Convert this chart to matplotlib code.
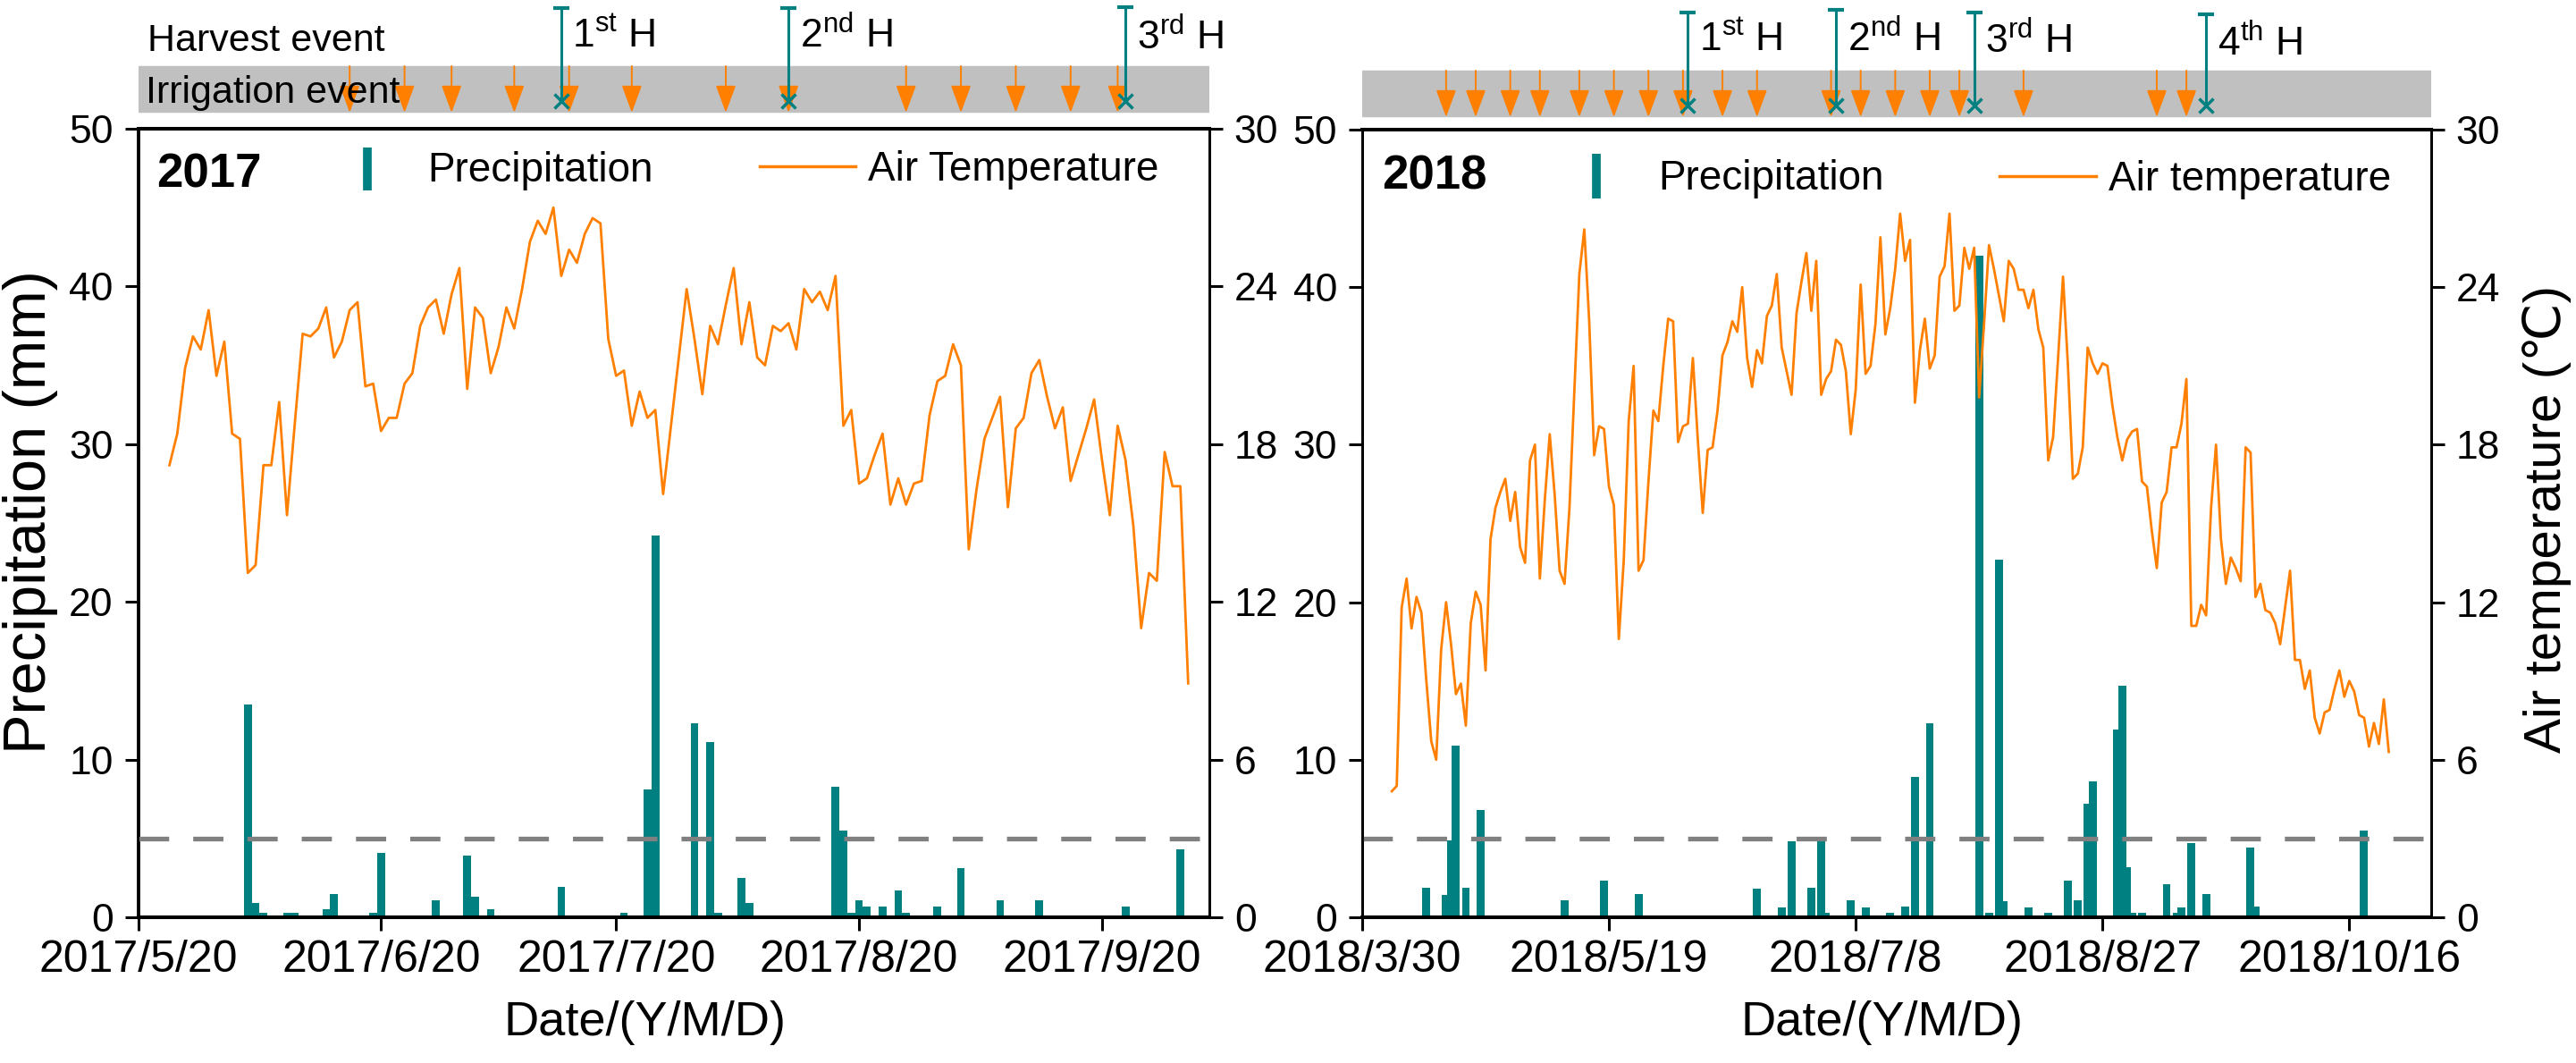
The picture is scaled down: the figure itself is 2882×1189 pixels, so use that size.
import matplotlib
matplotlib.use("Agg")
import matplotlib.pyplot as plt
from matplotlib import font_manager
from matplotlib.lines import Line2D
import pandas as pd

# ---------------- data ----------------
# 2017 season, day numbers counted from 2017/5/20
start_2017 = "2017-05-20"
temp_2017_first_day = 4
temp_2017 = [
    17.2, 18.4, 20.9, 22.1, 21.6, 23.1, 20.6, 21.9, 18.4, 18.2,
    13.1, 13.4, 17.2, 17.2, 19.6, 15.3, 18.8, 22.2, 22.1, 22.4,
    23.2, 21.3, 21.9, 23.1, 23.4, 20.2, 20.3, 18.5, 19.0, 19.0,
    20.3, 20.7, 22.5, 23.2, 23.5, 22.2, 23.7, 24.7, 20.1, 23.2,
    22.8, 20.7, 21.7, 23.2, 22.4, 23.9, 25.7, 26.5, 26.0, 27.0,
    24.4, 25.4, 24.9, 26.0, 26.6, 26.4, 22.0, 20.6, 20.8, 18.7,
    20.0, 19.0, 19.3, 16.1, 18.7, 21.3,
    23.9, 22.0, 19.9, 22.5, 21.8, 23.3, 24.7, 21.8, 23.4, 21.3,
    21.0, 22.5, 22.3, 22.6, 21.6, 23.9, 23.4, 23.8, 23.1, 24.4,
    18.7, 19.3, 16.5, 16.7, 17.6, 18.4, 15.7, 16.7, 15.7, 16.5,
    16.6, 19.1, 20.4, 20.6, 21.8, 21.0, 14.0, 16.3, 18.2, 19.0,
    19.8, 15.6, 18.6, 19.0, 20.7, 21.2, 19.8, 18.6, 19.4, 16.6,
    17.6, 18.6, 19.7, 17.4, 15.3, 18.7, 17.4, 14.9, 11.0, 13.1,
    12.8, 17.7, 16.4, 16.4, 8.9,
]
rain_2017_day = [14, 15, 16, 19, 20, 24, 25, 30, 31, 38, 42, 43, 45, 54, 62, 65,
                 66, 71, 73, 74, 77, 78, 89, 90, 91, 92, 93, 95, 97, 98, 102, 105,
                 110, 115, 126, 133]
rain_2017_mm = [13.5, 0.9, 0.3, 0.3, 0.3, 0.5, 1.5, 0.3, 4.1, 1.1, 3.9, 1.3, 0.5,
                1.9, 0.3, 8.1, 24.2, 12.3, 11.1, 0.3, 2.5, 0.9, 8.3, 5.5, 0.3, 1.1,
                0.7, 0.7, 1.7, 0.3, 0.7, 3.1, 1.1, 1.1, 0.7, 4.3]
irrigation_2017_day = [27, 34, 40, 48, 55, 63, 75, 83, 98, 105, 112, 119, 125]
harvest_2017_day = [54, 83, 126]
harvest_2017_label = ["1", "2", "3"]
harvest_2017_suffix = ["st", "nd", "rd"]
xticks_2017 = ["2017-05-20", "2017-06-20", "2017-07-20", "2017-08-20", "2017-09-20"]
xticklabels_2017 = ["2017/5/20", "2017/6/20", "2017/7/20", "2017/8/20", "2017/9/20"]

# 2018 season, day numbers counted from 2018/3/30
start_2018 = "2018-03-30"
temp_2018_first_day = 6
temp_2018 = [
    4.8, 5.0, 11.8, 12.9, 11.0, 12.2, 11.6, 9.0, 6.7, 6.0,
    10.2, 12.0, 10.4, 8.5, 8.9, 7.3, 11.2, 12.4, 11.9, 9.4,
    14.4, 15.6, 16.2, 16.7, 15.1, 16.2, 14.1, 13.5, 17.4, 18.0,
    12.9, 15.9, 18.4, 16.1, 13.2, 12.7, 15.6, 20.1, 24.5, 26.2,
    22.7, 17.6, 18.7, 18.6, 16.4, 15.7, 10.6, 13.6, 18.9, 21.0,
    13.2, 13.6, 16.6, 19.3, 18.9, 21.0, 22.8, 22.7, 18.1, 18.7,
    18.8, 21.3, 18.2, 15.4, 17.8, 17.9, 19.3, 21.4,
    21.9, 22.7, 22.3, 24.0, 21.3, 20.2, 21.6, 21.1, 22.9, 23.3,
    24.5, 21.7, 20.8, 19.9, 23.0, 24.2, 25.3, 23.1, 25.0, 19.9,
    20.5, 20.8, 22.0, 21.8, 20.8, 18.4, 20.1, 24.1, 20.7, 21.0,
    22.6, 25.9, 22.2, 23.2, 24.7, 26.8, 25.0, 25.8, 19.6, 21.6,
    22.8, 20.9, 21.4, 24.4, 24.8, 26.8, 23.1, 23.3, 25.5, 24.7,
    25.5, 19.8, 22.6, 25.6, 24.7, 23.7, 22.7, 25.0, 24.7, 23.9,
    23.9, 23.2, 23.9, 22.4, 21.7, 17.4, 18.3, 21.3, 24.4, 21.0,
    16.7, 16.9,
    17.9, 21.7, 21.1, 20.7, 21.1, 21.0, 19.5, 18.3, 17.4, 18.2,
    18.5, 18.6, 16.6, 16.4, 14.7, 13.3, 15.8, 16.2, 17.9, 17.9,
    18.8, 20.5, 11.1, 11.1, 11.9, 11.5, 15.6, 18.0, 14.4, 12.7,
    13.7, 13.3, 12.8, 17.9, 17.7, 12.2, 12.7, 11.7, 11.6, 11.2,
    10.4, 11.8, 13.2, 9.8, 9.8, 8.7, 9.4, 7.6, 7.0, 7.8,
    7.9, 8.7, 9.4, 8.4, 9.0, 8.6, 7.7, 7.6, 6.5, 7.4,
    6.6, 8.3, 6.3,
]
rain_2018_day = [13, 17, 18, 19, 21, 24, 41, 49, 56, 80, 85, 87, 91, 93, 94, 99,
                 102, 107, 110, 112, 115, 125, 127, 129, 130, 135, 139, 143, 145,
                 147, 148, 153, 154, 155, 156, 158, 163, 165, 166, 168, 171, 180,
                 181, 203]
rain_2018_mm = [1.9, 1.4, 4.9, 10.9, 1.9, 6.8, 1.1, 2.3, 1.5, 1.8, 0.6, 4.8, 1.9,
                4.8, 0.3, 1.1, 0.6, 0.3, 0.7, 8.9, 12.3, 42.0, 0.3, 22.7, 1.0, 0.6,
                0.3, 2.3, 1.1, 7.2, 8.6, 11.9, 14.7, 3.2, 0.3, 0.3, 2.1, 0.3, 0.6,
                4.7, 1.5, 4.4, 0.7, 5.5]
irrigation_2018_day = [17, 23, 30, 36, 44, 51, 58, 65, 73, 80, 95, 101, 108, 115,
                       121, 134, 161, 167]
harvest_2018_day = [66, 96, 124, 171]
harvest_2018_label = ["1", "2", "3", "4"]
harvest_2018_suffix = ["st", "nd", "rd", "th"]
xticks_2018 = ["2018-03-30", "2018-05-19", "2018-07-08", "2018-08-27", "2018-10-16"]
xticklabels_2018 = ["2018/3/30", "2018/5/19", "2018/7/8", "2018/8/27", "2018/10/16"]

# ---------------- style ----------------
TEAL = "#008080"
ORANGE = "#FF8000"
W, H = 2882, 1189

plt.rcParams["font.family"] = ["Liberation Sans", "DejaVu Sans"]
plt.rcParams["mathtext.fontset"] = "custom"
plt.rcParams["mathtext.rm"] = "Liberation Sans"

names = {f.name for f in font_manager.fontManager.ttflist}
if "Liberation Sans Narrow" in names:
    xtick_font, xtick_size = "Liberation Sans Narrow", 42
else:
    xtick_font, xtick_size = "Liberation Sans", 36


def fx(x):
    return x / W


def fy(y):
    return 1 - y / H


fig = plt.figure(figsize=(W / 100, H / 100), dpi=100)


def draw_panel(left, right, top, start, span, temp_first, temp, rain_day, rain_mm,
               bar_w, irr_day, harv_day, harv_lab, harv_suf, harv_top, harv_base,
               band, xticks, xticklabels, xlabel_x):
    ax = fig.add_axes([fx(left), fy(1026), (right - left) / W, (1026 - top) / H])
    ev = fig.add_axes([fx(left), fy(top), (right - left) / W, top / H])

    t0 = pd.Timestamp(start)
    t1 = t0 + pd.Timedelta(days=span)
    temp_dates = pd.date_range(t0 + pd.Timedelta(days=temp_first), periods=len(temp), freq="D")
    rain_dates = t0 + pd.to_timedelta(rain_day, unit="D")

    ax.bar(rain_dates, rain_mm, width=bar_w, color=TEAL, zorder=2)
    ax.axhline(5, color="#808080", lw=3.8, ls=(0, (6.4, 5.1)), zorder=3)
    ax.set_ylim(0, 50)
    ax.set_yticks(range(0, 51, 10))
    ax.set_xlim(t0, t1)
    ax.set_xticks(pd.to_datetime(xticks))
    ax.set_xticklabels(xticklabels, fontfamily=xtick_font, fontsize=xtick_size)
    ax.tick_params(axis="x", direction="out", length=11, width=2.2, pad=7)
    ax.tick_params(axis="y", direction="out", length=11, width=2.2, pad=9,
                   labelsize=32, right=False)
    ax.set_xlabel("Date/(Y/M/D)", fontsize=39)
    ax.xaxis.set_label_coords(xlabel_x, -0.106)

    tw = ax.twinx()
    tw.plot(temp_dates, temp, color=ORANGE, lw=2.0)
    tw.set_ylim(0, 30)
    tw.set_yticks(range(0, 31, 6))
    tw.set_xlim(t0, t1)
    tw.tick_params(axis="y", direction="out", length=11, width=2.2, pad=9, labelsize=32)

    for a in (ax, tw):
        a.spines["top"].set_linewidth(2.9)
        a.spines["bottom"].set_linewidth(2.9)
        a.spines["left"].set_linewidth(2.0)
        a.spines["right"].set_linewidth(2.0)

    # event strip above the plot
    ev.set_xlim(t0, t1)
    ev.set_ylim(top, 0)
    ev.axis("off")
    ev.axhspan(band[0], band[1], color="#C0C0C0", zorder=0)
    for d in irr_day:
        x = t0 + pd.Timedelta(days=d)
        ev.annotate("", xy=(x, band[1] + 1), xytext=(x, band[0]),
                    arrowprops=dict(arrowstyle="-|>,head_length=1.9,head_width=0.7",
                                    mutation_scale=10, color=ORANGE, lw=1.4,
                                    shrinkA=0, shrinkB=0))
    for d, n, s, ht, hb in zip(harv_day, harv_lab, harv_suf, harv_top, harv_base):
        x = t0 + pd.Timedelta(days=d)
        xm = band[1] - 12
        ev.plot([x, x], [ht, xm], color=TEAL, lw=2.2, solid_capstyle="butt", zorder=4)
        ev.plot([x], [ht], marker="_", ms=13, mew=3, color=TEAL, zorder=4)
        ev.plot([x], [xm], marker="x", ms=12, mew=2.5, color=TEAL, zorder=4)
        ev.annotate(n + r"$^{\rm " + s + "}$ H", xy=(x, hb), xytext=(9, 0),
                    textcoords="offset points", ha="left", va="baseline", fontsize=32)
    return ax, tw


ax1, tw1 = draw_panel(154.5, 1353, 144, start_2017, 136.7, temp_2017_first_day, temp_2017,
                      rain_2017_day, rain_2017_mm, 1.0, irrigation_2017_day,
                      harvest_2017_day, harvest_2017_label, harvest_2017_suffix,
                      [9, 9, 8], [53, 53, 55], (74, 125), xticks_2017, xticklabels_2017,
                      0.473)
ax2, tw2 = draw_panel(1524, 2720, 145, start_2018, 216.6, temp_2018_first_day, temp_2018,
                      rain_2018_day, rain_2018_mm, 1.6, irrigation_2018_day,
                      harvest_2018_day, harvest_2018_label, harvest_2018_suffix,
                      [14, 11, 14, 16], [57, 57, 59, 62], (79, 130), xticks_2018,
                      xticklabels_2018, 0.486)

ax1.set_ylabel("Precipitation (mm)", fontsize=48)
ax1.yaxis.set_label_coords(-0.075, 0.514)
tw2.set_ylabel("Air temperature (℃)", fontsize=42)
tw2.yaxis.set_label_coords(1.085, 0.506)

# event strip labels (2017 only)
fig.text(fx(165), fy(57), "Harvest event", fontsize=31, va="baseline")
fig.text(fx(163), fy(115), "Irrigation event", fontsize=31, va="baseline")

# hand-made legends inside the plots
legend_items = [
    ("2017", 175, 209, 411, 165, 213, 478, 203, 850, 957, 186, "Air Temperature", 971, 202),
    ("2018", 1546, 211, 1786, 172, 222, 1855, 212, 2237, 2345, 197, "Air temperature", 2359, 213),
]
for year, yx, yb, bx, b0, b1, px, pb, l0, l1, ly, tlab, tx, tb in legend_items:
    fig.text(fx(yx), fy(yb), year, fontsize=38, fontweight="bold", va="baseline")
    fig.add_artist(Line2D([fx(bx), fx(bx)], [fy(b0), fy(b1)], transform=fig.transFigure,
                          color=TEAL, lw=7, solid_capstyle="butt"))
    fig.text(fx(px), fy(pb), "Precipitation", fontsize=33, va="baseline")
    fig.add_artist(Line2D([fx(l0), fx(l1)], [fy(ly), fy(ly)], transform=fig.transFigure,
                          color=ORANGE, lw=2.5))
    fig.text(fx(tx), fy(tb), tlab, fontsize=33, va="baseline")

fig.savefig("out.png", dpi=100)
